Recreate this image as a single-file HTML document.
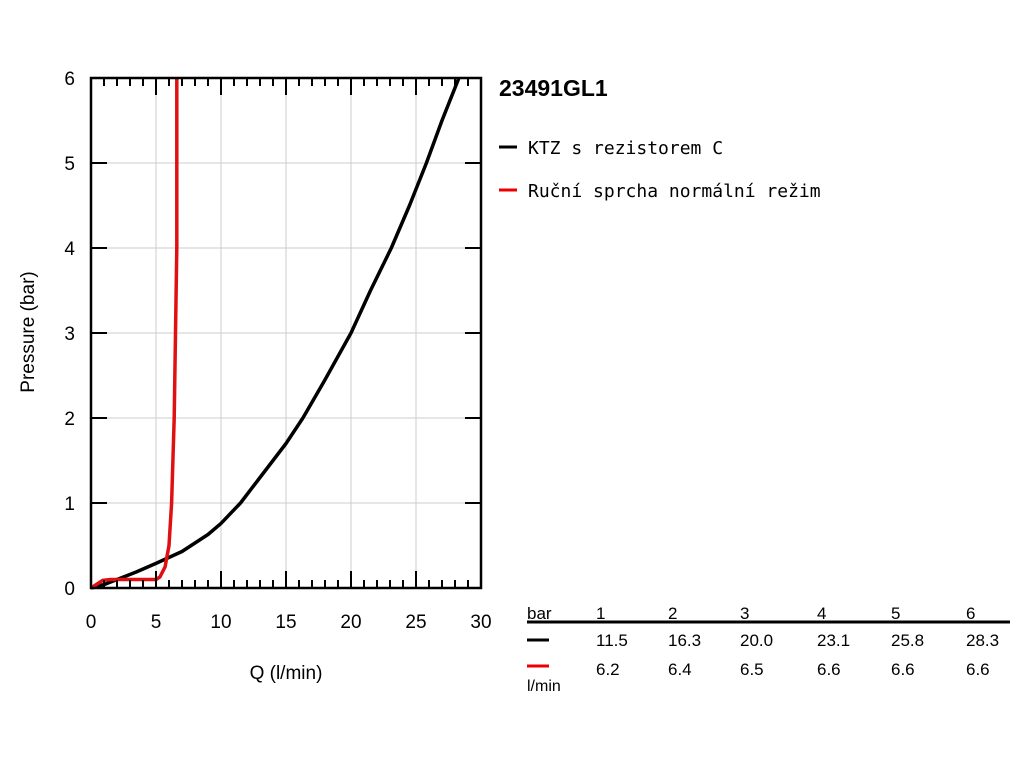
<!DOCTYPE html>
<html><head><meta charset="utf-8"><style>
body{margin:0;background:#fff;}
svg text{font-family:"Liberation Sans",Arial,sans-serif;}
</style></head><body>
<svg id="chart" width="1024" height="768" xmlns="http://www.w3.org/2000/svg">
<g id="grid"></g>
<g id="series"></g>
<g id="axes"></g>
<text x="34" y="332" font-size="19" text-anchor="middle" transform="rotate(-90 34 332)">Pressure (bar)</text>
<text x="286" y="679" font-size="19" text-anchor="middle">Q (l/min)</text>
<text x="499" y="96" font-size="23" font-weight="bold">23491GL1</text>
<g>
<line x1="499" y1="147" x2="517" y2="147" stroke="#000" stroke-width="3"/>
<text x="528" y="154" font-size="18" style="font-family:'DejaVu Sans Mono',monospace">KTZ s rezistorem C</text></g>
<g>
<line x1="499" y1="190" x2="517" y2="190" stroke="#e00" stroke-width="3"/>
<text x="528" y="197" font-size="18" style="font-family:'DejaVu Sans Mono',monospace">Ruční sprcha normální režim</text></g>
<g id="table">
<text x="527" y="619" font-size="17">bar</text>
<line x1="527" y1="622" x2="1010" y2="622" stroke="#000" stroke-width="3"/>
<line x1="527" y1="640" x2="549" y2="640" stroke="#000" stroke-width="3"/>
<line x1="527" y1="666" x2="549" y2="666" stroke="#e00" stroke-width="3"/>
<text x="527" y="691" font-size="16">l/min</text>
</g>
</svg>
<script>
const pressures=[1,2,3,4,5,6];
const ktzQ=[11.5,16.3,20.0,23.1,25.8,28.3];
const rucniQ=[6.2,6.4,6.5,6.6,6.6,6.6];
const ktzCurveQ=[0,1,2,3.5,5,7,9,10,11.5,13,15,16.3,18,20,21.5,23.1,24.5,25.8,27,28.3];
const ktzCurveP=[0,0.04,0.1,0.19,0.29,0.43,0.63,0.76,1,1.3,1.7,2,2.45,3,3.5,4,4.5,5,5.5,6];
const rucniCurveQ=[0,0.4,0.9,1.5,3,5,5.3,5.7,6.0,6.2,6.4,6.5,6.6,6.6,6.6];
const rucniCurveP=[0,0.04,0.09,0.1,0.1,0.1,0.13,0.25,0.5,1,2,3,4,5,6];
const xTicks=[0,5,10,15,20,25,30];
const yTicks=[0,1,2,3,4,5,6];
const X0=91,X1=481,Y0=588,Y1=78;
const sx=q=>X0+q/30*(X1-X0), sy=p=>Y0-p/6*(Y0-Y1);
const NS="http://www.w3.org/2000/svg";
function mk(parent,tag,attrs){const e=document.createElementNS(NS,tag);for(const k in attrs)e.setAttribute(k,attrs[k]);parent.appendChild(e);return e;}
const grid=document.getElementById('grid'),axes=document.getElementById('axes'),series=document.getElementById('series'),table=document.getElementById('table');
xTicks.forEach(v=>{if(v>0&&v<30){const l=mk(grid,'line',{x1:sx(v),x2:sx(v),y1:Y1,y2:Y0,stroke:'#ccc','stroke-width':1});

}
const t=mk(axes,'text',{x:sx(v),y:Y0+40,'font-size':19,'text-anchor':'middle'});t.textContent=v;

});
yTicks.forEach(v=>{if(v>0&&v<6){const l=mk(grid,'line',{x1:X0,x2:X1,y1:sy(v),y2:sy(v),stroke:'#ccc','stroke-width':1});

}
const t=mk(axes,'text',{x:X0-16,y:sy(v)+7,'font-size':19,'text-anchor':'end'});t.textContent=v;


if(v>0&&v<6){mk(axes,'line',{x1:X0,x2:X0+16,y1:sy(v),y2:sy(v),stroke:'#000','stroke-width':2});mk(axes,'line',{x1:X1-16,x2:X1,y1:sy(v),y2:sy(v),stroke:'#000','stroke-width':2});}});
for(let i=1;i<30;i++){const L=i%5===0?17:8;
mk(axes,'line',{x1:sx(i),x2:sx(i),y1:Y0,y2:Y0-L,stroke:'#000','stroke-width':2});
mk(axes,'line',{x1:sx(i),x2:sx(i),y1:Y1,y2:Y1+L,stroke:'#000','stroke-width':2});}
const fr=mk(axes,'rect',{x:X0,y:Y1,width:X1-X0,height:Y0-Y1,fill:'none',stroke:'#000','stroke-width':2.5});


function line(qs,ps,color,name){const d=qs.map((q,i)=>(i?'L':'M')+sx(q).toFixed(1)+','+sy(ps[i]).toFixed(1)).join('');
const p=mk(series,'path',{d:d,fill:'none',stroke:color,'stroke-width':3.5,'stroke-linejoin':'round'});

}
line(ktzCurveQ,ktzCurveP,'#000','ktz-line');
line(rucniCurveQ,rucniCurveP,'#e01010','rucni-line');
const colX=[596,668,740,817,891,966];
pressures.forEach((p,i)=>{
const h=mk(table,'text',{x:colX[i],y:619,'font-size':17});h.textContent=p;


const a=mk(table,'text',{x:colX[i],y:646,'font-size':17});a.textContent=ktzQ[i].toFixed(1);


const b=mk(table,'text',{x:colX[i],y:675,'font-size':17});b.textContent=rucniQ[i].toFixed(1);

});
</script>
</body></html>
